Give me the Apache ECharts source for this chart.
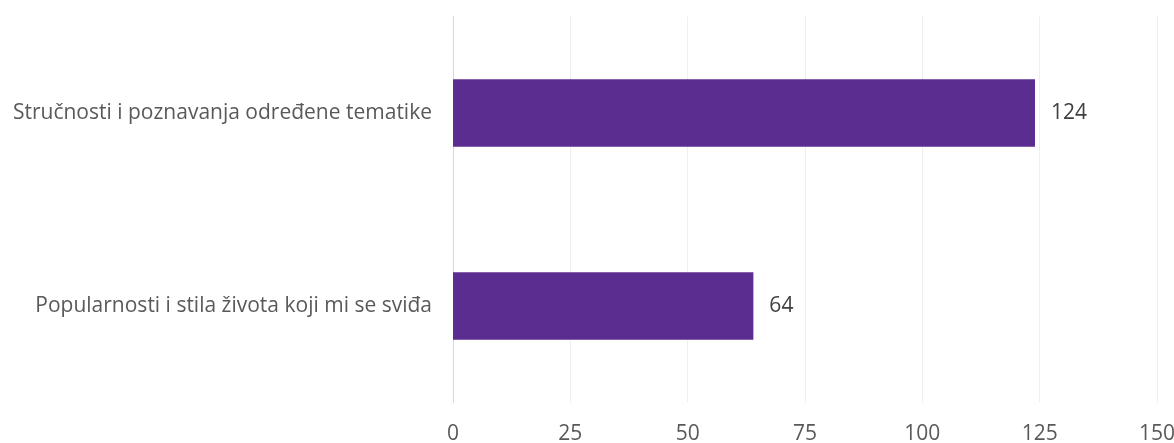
<!DOCTYPE html>
<html><head><meta charset="utf-8">
<script src="https://cdn.jsdelivr.net/npm/echarts@6/dist/echarts.min.js"></script>
<style>html,body{margin:0;padding:0;background:#fff}#c{width:1174px;height:443px}</style>
</head><body><div id="c"></div>
<script>
const categories = ["Popularnosti i stila života koji mi se sviđa", "Stručnosti i poznavanja određene tematike"];
const values = [64, 124];
const xTicks = [0, 25, 50, 75, 100, 125, 150];

const chart = echarts.init(document.getElementById('c'));
chart.setOption({
  animation: false,
  grid: {left: 453, right: 17, top: 16.5, bottom: 40.5, containLabel: false, outerBoundsMode: 'none'},
  xAxis: {
    type: 'value', min: xTicks[0], max: xTicks[xTicks.length-1], interval: 25,
    axisLine: {show: false}, axisTick: {show: false},
    splitLine: {lineStyle: {color: '#eceff4', width: 1}},
    axisLabel: {color: '#595959', fontSize: 21, fontFamily: 'Open Sans', margin: 21}
  },
  yAxis: {
    type: 'category', data: categories,
    axisLine: {show: true, lineStyle: {color: '#d9d9d9'}}, axisTick: {show: false},
    axisLabel: {color: '#595959', fontSize: 21, fontFamily: 'Open Sans', margin: 21}
  },
  series: [{
    type: 'bar', data: values, barCategoryGap: '65%',
    itemStyle: {color: '#5c2d91'},
    label: {show: true, position: 'right', distance: 16, color: '#404040', fontSize: 21, fontFamily: 'Open Sans'}
  }]
});
</script></body></html>
